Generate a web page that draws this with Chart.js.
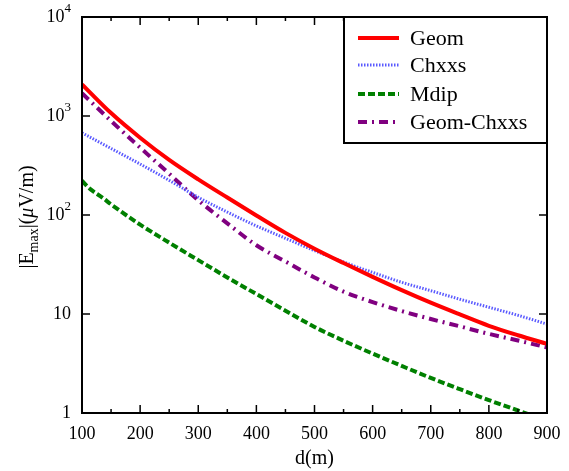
<!DOCTYPE html>
<html>
<head>
<meta charset="utf-8">
<script src="https://cdn.jsdelivr.net/npm/chart.js@4.4.1/dist/chart.umd.min.js"></script>
<style>
  body { margin: 0; background: #fff; }
  canvas { display: block; }
</style>
</head>
<body>
<canvas id="chart" width="569" height="471"></canvas>
<script>
// distances (m) and field values
const dist = [100, 150, 200, 250, 300, 350, 400, 450, 500, 550, 600, 650, 700, 750, 800, 850, 900];
const geom = [2090, 1070, 603, 360, 229, 150, 99, 66, 45.7, 32.7, 23.7, 17.4, 13.0, 9.9, 7.6, 6.1, 5.0];
const chxxs = [676, 470, 327, 224, 151, 107, 77.6, 58.2, 43.7, 33.5, 26.3, 20.9, 17.2, 14.1, 11.7, 9.7, 7.9];
const geomChxxs = [1698, 891, 479, 261, 141, 82.4, 49.5, 33.9, 23.4, 16.8, 13.2, 10.7, 8.9, 7.5, 6.3, 5.4, 4.6];
const mdipDist = [100, 110, 120, 135, 150, 200, 250, 300, 350, 400, 450, 500, 550, 600, 650, 700, 750, 800, 850, 900];
const mdip = [222, 192, 172, 150, 128, 80, 52.5, 35, 23.4, 15.9, 10.8, 7.4, 5.37, 3.98, 2.99, 2.26, 1.74, 1.35, 1.06, 0.83];

const xTicks = [100, 200, 300, 400, 500, 600, 700, 800, 900];
const xMinor = [150, 250, 350, 450, 550, 650, 750, 850];
const yTicks = [1, 10, 100, 1000, 10000];
const yTickText = ['1', '10', '10', '10', '10'];
const yTickExp = ['', '', '2', '3', '4'];

const serif = '"Liberation Serif", "DejaVu Serif", serif';

function pairs(xs, ys) {
    return xs.map((x, i) => ({ x: x, y: ys[i] }));
}

// axes box, inward ticks, tick labels, axis titles and legend
const framePlugin = {
    id: 'frame',
    afterDraw(chart) {
        const ctx = chart.ctx;
        const a = chart.chartArea;
        const xs = chart.scales.x;
        const ys = chart.scales.y;
        ctx.save();
        ctx.strokeStyle = '#000';
        ctx.lineWidth = 2;
        ctx.strokeRect(a.left, a.top, a.right - a.left, a.bottom - a.top);

        ctx.lineWidth = 1.5;
        ctx.beginPath();
        xTicks.forEach(v => {
            const px = xs.getPixelForValue(v);
            ctx.moveTo(px, a.bottom); ctx.lineTo(px, a.bottom - 8);
            ctx.moveTo(px, a.top); ctx.lineTo(px, a.top + 8);
        });
        xMinor.forEach(v => {
            const px = xs.getPixelForValue(v);
            ctx.moveTo(px, a.bottom); ctx.lineTo(px, a.bottom - 4);
            ctx.moveTo(px, a.top); ctx.lineTo(px, a.top + 4);
        });
        yTicks.forEach(v => {
            const py = ys.getPixelForValue(v);
            ctx.moveTo(a.left, py); ctx.lineTo(a.left + 8, py);
            ctx.moveTo(a.right, py); ctx.lineTo(a.right - 8, py);
        });
        ctx.stroke();

        ctx.fillStyle = '#000';
        ctx.font = '18px ' + serif;
        ctx.textAlign = 'center';
        ctx.textBaseline = 'top';
        xTicks.forEach(v => {
            ctx.fillText(String(v), xs.getPixelForValue(v), a.bottom + 12);
        });

        ctx.textBaseline = 'middle';
        yTicks.forEach((v, i) => {
            const py = ys.getPixelForValue(v);
            const right = a.left - 11;
            if (yTickExp[i]) {
                ctx.font = '13px ' + serif;
                const ew = ctx.measureText(yTickExp[i]).width;
                ctx.textAlign = 'right';
                ctx.fillText(yTickExp[i], right, py - 8);
                ctx.font = '18px ' + serif;
                ctx.fillText(yTickText[i], right - ew, py);
            } else {
                ctx.font = '18px ' + serif;
                ctx.textAlign = 'right';
                ctx.fillText(yTickText[i], right, py);
            }
        });

        // x title
        ctx.font = '20px ' + serif;
        ctx.textAlign = 'center';
        ctx.textBaseline = 'alphabetic';
        ctx.fillText('d(m)', (a.left + a.right) / 2, a.bottom + 51);

        // y title, rotated, with subscript and italic mu
        const parts = [
            { t: '|E', f: '20px ' + serif, dy: 0 },
            { t: 'max', f: '14px ' + serif, dy: 5 },
            { t: '|(', f: '20px ' + serif, dy: 0 },
            { t: '\u03bc', f: 'italic 20px ' + serif, dy: 0 },
            { t: 'V/m)', f: '20px ' + serif, dy: 0 }
        ];
        let total = 0;
        parts.forEach(p => { ctx.font = p.f; p.w = ctx.measureText(p.t).width; total += p.w; });
        ctx.translate(33, (a.top + a.bottom) / 2 + 2);
        ctx.rotate(-Math.PI / 2);
        ctx.textAlign = 'left';
        let cx = -total / 2;
        parts.forEach(p => {
            ctx.font = p.f;
            ctx.fillText(p.t, cx, p.dy);
            cx += p.w;
        });
        ctx.setTransform(1, 0, 0, 1, 0, 0);

        // legend box
        const lx = 344, ly = a.top, lw = a.right - 344, lh = 126;
        ctx.fillStyle = '#fff';
        ctx.fillRect(lx, ly, lw, lh);
        ctx.strokeStyle = '#000';
        ctx.lineWidth = 2;
        ctx.strokeRect(lx, ly, lw, lh);
        const rows = [38, 65, 94, 122];
        chart.data.datasets.forEach((ds, i) => {
            const y = rows[i];
            ctx.strokeStyle = ds.borderColor;
            ctx.lineWidth = ds.borderWidth;
            ctx.setLineDash(ds.borderDash || []);
            ctx.beginPath();
            ctx.moveTo(358, y);
            ctx.lineTo(399, y);
            ctx.stroke();
            ctx.setLineDash([]);
            ctx.fillStyle = '#000';
            ctx.font = '22px ' + serif;
            ctx.textBaseline = 'middle';
            ctx.fillText(ds.label, 410, y + 1);
        });
        ctx.restore();
    }
};

new Chart(document.getElementById('chart'), {
    type: 'line',
    data: {
        datasets: [
            { label: 'Geom', data: pairs(dist, geom), borderColor: '#ff0000', borderWidth: 4 },
            { label: 'Chxxs', data: pairs(dist, chxxs), borderColor: '#5a5aff', borderWidth: 3, borderDash: [1.5, 1.5] },
            { label: 'Mdip', data: pairs(mdipDist, mdip), borderColor: '#008000', borderWidth: 4, borderDash: [7, 3] },
            { label: 'Geom-Chxxs', data: pairs(dist, geomChxxs), borderColor: '#800080', borderWidth: 4, borderDash: [9, 5, 2, 5] }
        ]
    },
    options: {
        responsive: false,
        animation: false,
        events: [],
        elements: {
            point: { radius: 0 },
            line: { cubicInterpolationMode: 'monotone' }
        },
        layout: { padding: { top: 17, right: 22, left: 0, bottom: 0 } },
        plugins: { legend: { display: false }, tooltip: { enabled: false } },
        scales: {
            x: {
                type: 'linear', min: 100, max: 900,
                grid: { display: false }, border: { display: false },
                ticks: { display: false },
                afterFit: s => { s.height = 58; }
            },
            y: {
                type: 'logarithmic', min: 1, max: 10000,
                grid: { display: false }, border: { display: false },
                ticks: { display: false },
                afterFit: s => { s.width = 82; }
            }
        }
    },
    plugins: [framePlugin]
});
</script>
</body>
</html>
